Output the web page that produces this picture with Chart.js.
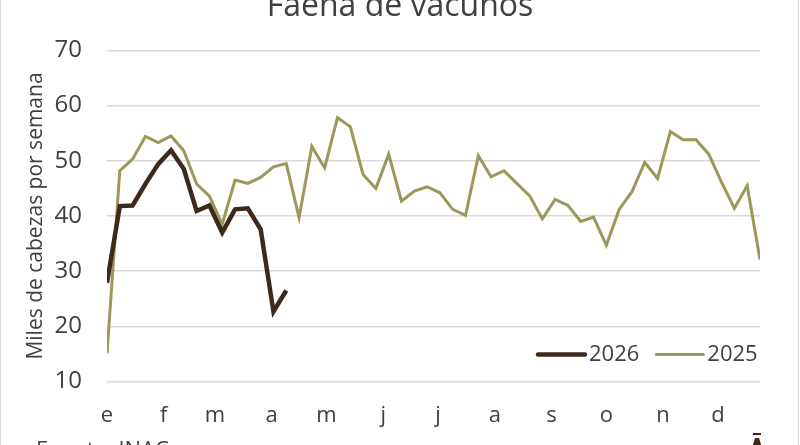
<!DOCTYPE html>
<html>
<head>
<meta charset="utf-8">
<script src="https://cdn.jsdelivr.net/npm/chart.js@4.4.1/dist/chart.umd.min.js"></script>
<style>
  html, body { margin: 0; padding: 0; background: #fff; overflow: hidden; }
  #frame { position: relative; width: 797px; height: 445px; border-left: 1px solid #d9d9d9; border-right: 1px solid #d9d9d9; overflow: hidden; }
  #wrap { position: absolute; left: -1px; top: -14px; width: 800px; height: 480px; }
</style>
</head>
<body>
<div id="frame">
  <div id="wrap"><canvas id="faena"></canvas></div>
</div>
<script>
"use strict";

// meses (etiquetas del eje x) y día del año en que empieza cada uno
const meses = ["e", "f", "m", "a", "m", "j", "j", "a", "s", "o", "n", "d"];
const diaInicioMes = [0, 31, 59, 90, 120, 151, 181, 212, 243, 273, 304, 334];

// faena semanal, miles de cabezas
const faena2026 = [27.9, 41.8, 41.9, 45.8, 49.4, 51.9, 48.5, 40.9, 41.9, 37.0, 41.2, 41.4, 37.6, 22.7, 26.5];
const faena2025 = [15.1, 48.2, 50.3, 54.4, 53.3, 54.5, 51.8, 45.8, 43.6, 38.5, 46.5, 45.9, 47.0, 48.9, 49.5, 39.7,
  52.6, 48.7, 57.8, 56.2, 47.5, 45.0, 51.2, 42.7, 44.5, 45.3, 44.2, 41.2, 40.1, 50.9, 47.1, 48.2, 45.9, 43.7,
  39.5, 43.0, 41.9, 39.0, 39.8, 34.7, 41.2, 44.4, 49.7, 46.8, 55.3, 53.8, 53.8, 51.2, 46.1, 41.4, 45.5, 32.1];

const yTicks = [10, 20, 30, 40, 50, 60, 70];

const TEXTO = "#404040";
const FUENTE = "'Open Sans', 'DejaVu Sans', sans-serif";

// posición de cada mes en semanas
const semanaMes = diaInicioMes.map(d => d / 7);

const porSemana = arr => arr.map((v, i) => ({ x: i, y: v }));

// leyenda dibujada dentro del área del gráfico, abajo a la derecha
const leyendaAbajo = {
  id: "leyendaAbajo",
  afterDraw(chart) {
    const ctx = chart.ctx;
    const area = chart.chartArea;
    ctx.save();
    ctx.font = "22px " + FUENTE;
    ctx.textBaseline = "middle";
    let x = area.left + 431;
    const y = area.bottom - 27;
    chart.data.datasets.forEach(ds => {
      ctx.strokeStyle = ds.borderColor;
      ctx.lineWidth = ds.borderWidth;
      ctx.lineCap = "round";
      ctx.beginPath();
      ctx.moveTo(x, y);
      ctx.lineTo(x + 47, y);
      ctx.stroke();
      ctx.fillStyle = TEXTO;
      ctx.fillText(ds.label, x + 51, y);
      x += 51 + ctx.measureText(ds.label).width + 17;
    });
    ctx.restore();
  }
};

// fuente al pie (cortada por el borde de la imagen) y logo
const pieFuente = {
  id: "pieFuente",
  afterDraw(chart) {
    const ctx = chart.ctx;
    ctx.save();
    ctx.font = "22px " + FUENTE;
    ctx.fillStyle = TEXTO;
    ctx.textBaseline = "alphabetic";
    ctx.fillText("Fuente: INAC", 36, 471);
    ctx.fillStyle = "#3e2a1c";
    ctx.fillRect(753, 447, 8, 2);
    ctx.beginPath();
    ctx.moveTo(755, 452);
    ctx.lineTo(759, 452);
    ctx.lineTo(762, 462);
    ctx.lineTo(752, 462);
    ctx.closePath();
    ctx.fill();
    ctx.restore();
  }
};

new Chart(document.getElementById("faena"), {
  type: "line",
  data: {
    datasets: [
      {
        label: "2026",
        data: porSemana(faena2026),
        borderColor: "#3e2a1c",
        borderWidth: 4.5,
        pointRadius: 0,
        tension: 0
      },
      {
        label: "2025",
        data: porSemana(faena2025),
        borderColor: "#9b985a",
        borderWidth: 3,
        pointRadius: 0,
        tension: 0
      }
    ]
  },
  options: {
    responsive: true,
    maintainAspectRatio: false,
    animation: false,
    layout: { padding: { left: 0, right: 0, top: 0, bottom: 16 } },
    plugins: {
      legend: { display: false },
      tooltip: { enabled: false },
      title: {
        display: true,
        text: "Faena de vacunos",
        color: TEXTO,
        font: { family: FUENTE, size: 32, weight: "normal" },
        padding: { top: 2, bottom: 24 }
      }
    },
    scales: {
      x: {
        type: "linear",
        min: 0,
        max: faena2025.length - 1,
        grid: { display: false, drawTicks: false },
        border: { display: false },
        afterBuildTicks: scale => {
          scale.ticks = semanaMes.map(v => ({ value: v }));
        },
        ticks: {
          autoSkip: false,
          maxRotation: 0,
          padding: 21,
          color: TEXTO,
          font: { family: FUENTE, size: 22 },
          callback: (v, i) => meses[i]
        }
      },
      y: {
        min: 10,
        max: 70,
        afterBuildTicks: scale => {
          scale.ticks = yTicks.map(v => ({ value: v }));
        },
        afterFit: scale => { scale.width = 107; },
        grid: { color: "#d9d9d9", lineWidth: 1.5, drawTicks: false },
        border: { display: false },
        ticks: {
          padding: 25,
          color: TEXTO,
          font: { family: FUENTE, size: 24 }
        },
        title: {
          display: true,
          text: "Miles de cabezas por semana",
          color: TEXTO,
          font: { family: FUENTE, size: 21 },
          padding: { top: 23, bottom: 0 }
        }
      },
      // margen derecho vacío
      yDer: {
        position: "right",
        display: true,
        afterFit: scale => { scale.width = 40; },
        grid: { display: false, drawTicks: false },
        border: { display: false },
        ticks: { display: false }
      }
    }
  },
  plugins: [leyendaAbajo, pieFuente]
});
</script>
</body>
</html>
